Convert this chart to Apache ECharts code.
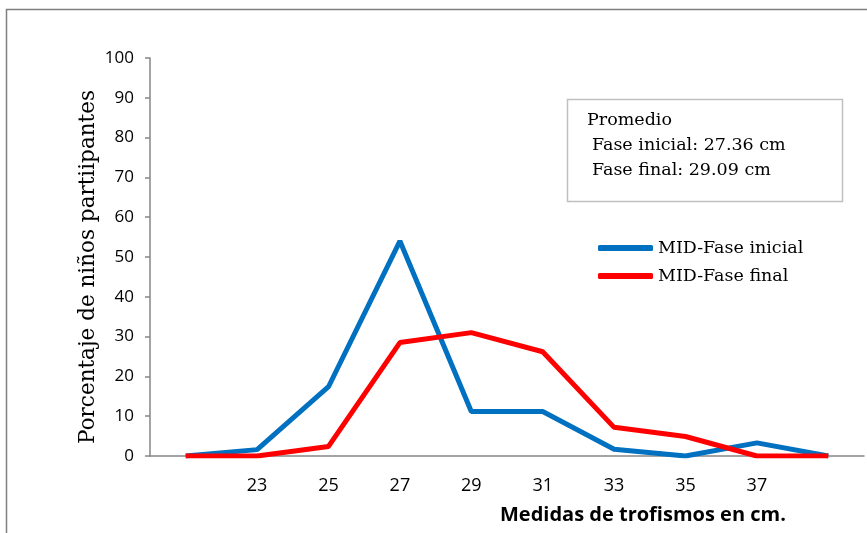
<!DOCTYPE html>
<html>
<head>
<meta charset="utf-8">
<script src="https://cdn.jsdelivr.net/npm/echarts@6/dist/echarts.min.js"></script>
<style>
  html, body { margin: 0; padding: 0; background: #fff; }
  #chart { width: 867px; height: 533px; }
</style>
</head>
<body>
<div id="chart"></div>
<script>
// Medidas (cm); first and last classes carry no label
const categories = ['', '23', '25', '27', '29', '31', '33', '35', '37', ''];
// Porcentaje de niños por medida
const faseInicial = [0, 1.6, 17.4, 54, 11.2, 11.2, 1.7, 0, 3.3, 0];
const faseFinal   = [0, 0, 2.4, 28.5, 31, 26.2, 7.2, 4.9, 0, 0];
const yTicks = { min: 0, max: 100, interval: 10 };

const BLUE = '#0070C0';
const RED = '#FF0000';
const AXIS = '#868686';
const SERIF = '"DejaVu Serif", "Liberation Serif", serif';
const SANS = '"Open Sans", "Liberation Sans", sans-serif';

const chart = echarts.init(document.getElementById('chart'));
chart.setOption({
  animation: false,
  backgroundColor: '#fff',
  grid: { left: 150, right: 3, top: 58, bottom: 77 },
  legend: {
    orient: 'vertical',
    left: 593,
    top: 234,
    itemWidth: 55,
    itemHeight: 6,
    itemGap: 10,
    icon: 'roundRect',
    textStyle: { fontFamily: SERIF, fontSize: 17.5, color: '#000', padding: [0, 0, 0, 0] },
    data: ['MID-Fase inicial', 'MID-Fase final']
  },
  xAxis: {
    type: 'category',
    data: categories,
    boundaryGap: true,
    axisLine: { lineStyle: { color: AXIS, width: 1.5 } },
    axisTick: { length: 7, lineStyle: { color: AXIS, width: 1.5 } },
    axisLabel: { margin: 21, fontFamily: SANS, fontSize: 18, color: '#000' }
  },
  yAxis: {
    type: 'value',
    min: yTicks.min,
    max: yTicks.max,
    interval: yTicks.interval,
    splitLine: { show: false },
    axisLine: { show: true, lineStyle: { color: AXIS, width: 1.5 } },
    axisTick: { show: true, length: 5, lineStyle: { color: AXIS, width: 1.5 } },
    axisLabel: { margin: 16, fontFamily: SANS, fontSize: 17, color: '#000' }
  },
  series: [
    {
      name: 'MID-Fase inicial',
      type: 'line',
      data: faseInicial,
      symbol: 'none',
      itemStyle: { color: BLUE },
      lineStyle: { color: BLUE, width: 5 }
    },
    {
      name: 'MID-Fase final',
      type: 'line',
      data: faseFinal,
      symbol: 'none',
      itemStyle: { color: RED },
      lineStyle: { color: RED, width: 5 }
    }
  ],
  graphic: [
    {
      type: 'rect',
      shape: { x: 6.5, y: 9.5, width: 880, height: 540 },
      style: { fill: 'none', stroke: '#7f7f7f', lineWidth: 1.5 },
      silent: true
    },
    {
      type: 'rect',
      shape: { x: 567.5, y: 99.5, width: 275, height: 102 },
      style: { fill: '#fff', stroke: '#c0c0c0', lineWidth: 1.5 },
      silent: true
    },
    {
      type: 'text',
      left: 587, top: 111,
      style: { text: 'Promedio', fontFamily: SERIF, fontSize: 17.5, fill: '#000' }
    },
    {
      type: 'text',
      left: 592, top: 136,
      style: { text: 'Fase inicial: 27.36 cm', fontFamily: SERIF, fontSize: 17.5, fill: '#000' }
    },
    {
      type: 'text',
      left: 592, top: 161,
      style: { text: 'Fase final: 29.09 cm', fontFamily: SERIF, fontSize: 17.5, fill: '#000' }
    },
    {
      // vertical axis title
      type: 'text',
      x: 88, y: 267,
      rotation: Math.PI / 2,
      style: {
        text: 'Porcentaje de niños partiipantes',
        fontFamily: SERIF, fontSize: 21.5, fill: '#000',
        align: 'center', verticalAlign: 'middle'
      }
    },
    {
      type: 'text',
      left: 500, top: 505,
      style: { text: 'Medidas de trofismos en cm.', fontFamily: SANS, fontSize: 20, fontWeight: 'bold', fill: '#000' }
    }
  ]
});
</script>
</body>
</html>
